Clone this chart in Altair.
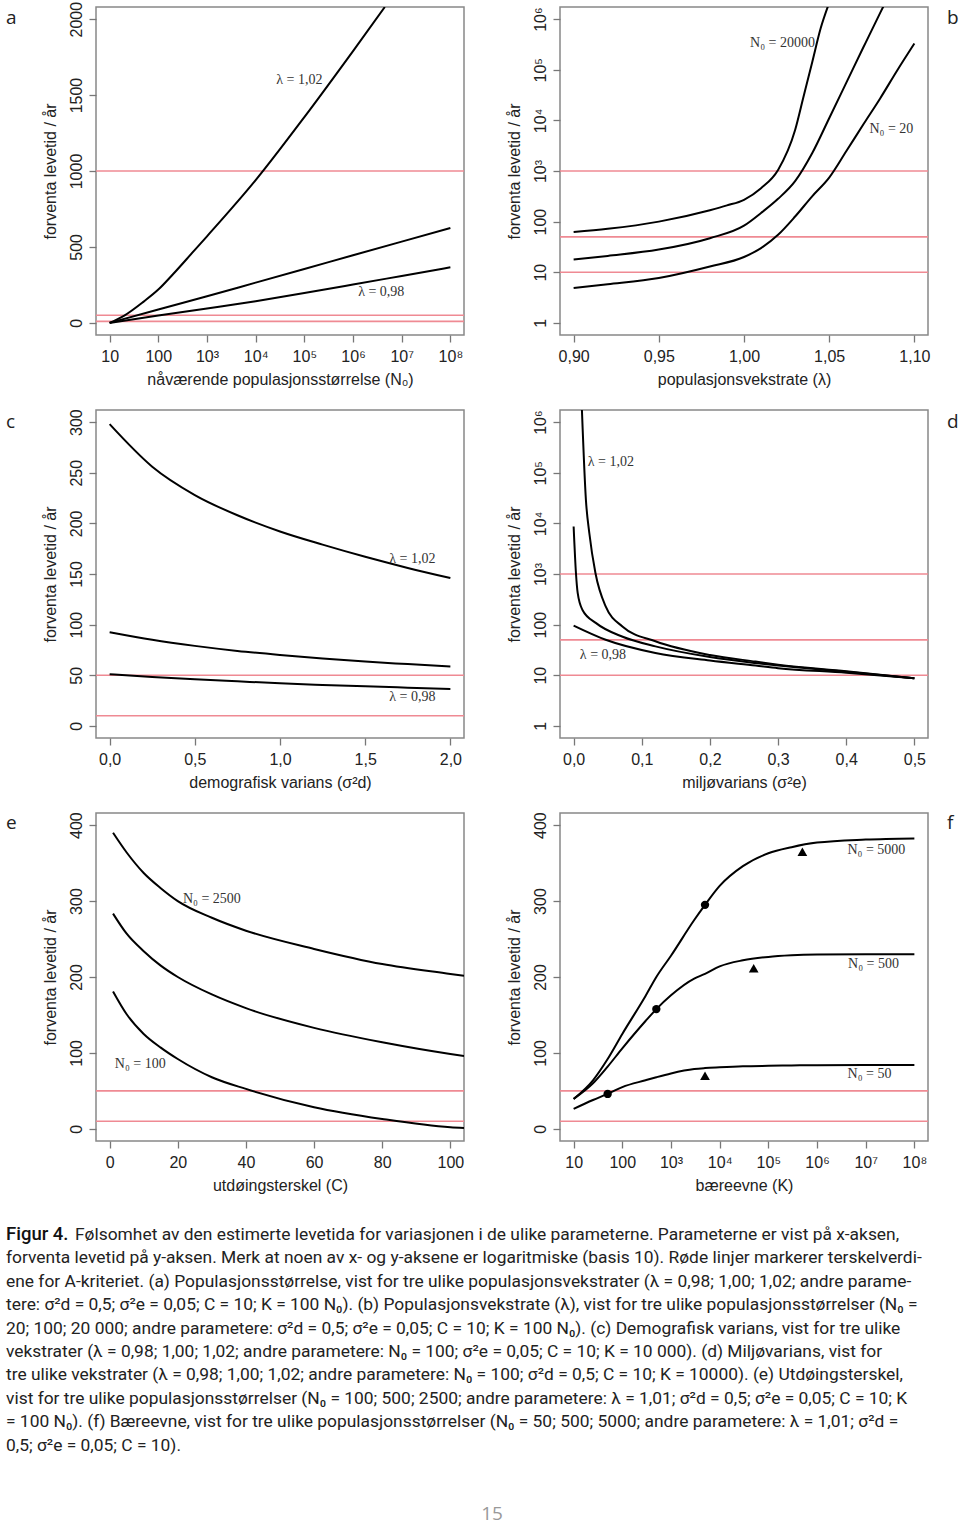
import altair as alt
import pandas as pd

# ---------------- data ----------------
# (a) expected lifetime vs current population size N0
A_N0 = [10, 100, 1000, 1e4, 1e5, 1e6, 1e7, 1e8]
A_LAM098 = [0, 48, 95, 143, 196, 252, 309, 366]
A_LAM100 = [0, 88, 175, 265, 355, 445, 535, 625]
A_N0_102 = [10, 20, 50, 100, 200, 500, 1000, 1e4, 1e5, 1e6, 4.5e6]
A_LAM102 = [0, 48, 140, 219, 320, 462, 570, 940, 1355, 1790, 2080]

# (b) expected lifetime vs growth rate lambda (log y)
B_LAMBDA = [0.90, 0.92, 0.95, 0.98, 1.00, 1.01, 1.02, 1.03, 1.04, 1.05, 1.06, 1.07, 1.08, 1.09, 1.10]
B_N20 = [4.9, 5.8, 7.7, 13, 20, 30, 55, 126, 316, 740, 2450, 8300, 27500, 98000, 330000]
B_N100 = [17.8, 21, 28, 47, 83, 148, 282, 631, 2240, 11000, 55000, 275000, 1.35e6, 6.3e6, 3e7]
B_LAMBDA_20000 = [0.90, 0.92, 0.95, 0.98, 0.99, 1.00, 1.01, 1.02, 1.03, 1.035, 1.04, 1.045, 1.05]
B_N20000 = [62, 72, 100, 168, 209, 270, 457, 1050, 6450, 30000, 140000, 660000, 2.1e6]

# (c) expected lifetime vs demographic variance
C_SD2 = [0.0, 0.25, 0.5, 0.75, 1.0, 1.25, 1.5, 1.75, 2.0]
C_LAM102 = [298, 256, 228, 208, 192, 179, 167, 156, 146]
C_LAM100 = [92.5, 85, 79, 74, 70, 66.5, 63.5, 61, 58.6]
C_LAM098 = [51, 48.3, 46, 44, 42, 40.4, 39, 37.7, 36.5]

# (d) expected lifetime vs environmental variance (log y)
D_SE2_102 = [0.012, 0.018, 0.023, 0.032, 0.047, 0.072, 0.12, 0.2, 0.267, 0.3, 0.4, 0.5]
D_LAM102 = [2.0e6, 29500, 6460, 1047, 229, 91, 46.8, 25.1, 18.6, 16.2, 12.0, 8.7]
D_SE2_100 = [0.0, 0.0034, 0.006, 0.013, 0.033, 0.072, 0.12, 0.2, 0.267, 0.3, 0.4, 0.5]
D_LAM100 = [8710, 1047, 417, 195, 107, 57.5, 37.2, 22.9, 17.4, 15.5, 11.7, 8.7]
D_SE2_098 = [0.0, 0.047, 0.12, 0.2, 0.267, 0.3, 0.4, 0.5]
D_LAM098 = [95.5, 50.1, 27.5, 19.5, 15.5, 13.8, 11.2, 8.7]

# (e) expected lifetime vs extinction threshold C
E_C = [1, 5, 10, 15, 20, 30, 40, 60, 80, 100, 104]
E_N2500 = [390, 364, 337, 317, 300, 278, 261, 237, 217, 204, 201.5]
E_N500 = [283.5, 257, 234, 215, 200, 177, 159, 133, 114, 98.6, 96]
E_N100 = [181, 151, 125, 107, 92, 68, 52.6, 28.5, 13, 2, 1]

# (f) expected lifetime vs carrying capacity K
F_K = [10, 25, 50, 100, 300, 500, 1000, 3000, 5000, 1e4, 3e4, 1e5, 3e5, 1e6, 1e7, 1e8]
F_N5000 = [39.4, 64, 92, 125, 175, 200, 228, 275, 295, 320, 346, 363, 371, 377, 381, 382.5]
F_N500 = [39.4, 60, 82, 106, 142, 157.7, 176, 198, 204, 214, 222, 226.5, 228.5, 229.5, 230, 230]
F_N50 = [26.3, 38, 46, 55, 64, 68, 73, 78.8, 80, 81, 82.3, 83, 83.5, 83.8, 84, 84]
F_DOT_K = [50, 500, 5000]
F_DOT_Y = [46, 157.7, 295]
F_TRI_K = [5000, 50000, 500000]
F_TRI_Y = [70, 211.6, 365]

# red threshold lines
RED_A = [10, 50, 1000]
RED_B = [10, 50, 1000]
RED_C = [10, 50]
RED_D = [10, 50, 1000]
RED_E = [10, 50]
RED_F = [10, 50]

# annotation labels
NOTES_A = (["λ = 1,02", "λ = 0,98"], [7.9e4, 3.8e6], [1600, 200])
NOTES_B = (["N₀ = 20000", "N₀ = 20"], [1.0226, 1.0865], [3.35e5, 6760])
NOTES_C = (["λ = 1,02", "λ = 0,98"], [1.777, 1.777], [165, 28.6])
NOTES_D = (["λ = 1,02", "λ = 0,98"], [0.0546, 0.043], [1.65e5, 25])
NOTES_E = (["N₀ = 2500", "N₀ = 100"], [30, 9], [302.6, 85.8])
NOTES_F = (["N₀ = 5000", "N₀ = 500", "N₀ = 50"], [1.66e7, 1.45e7, 1.2e7], [367, 217, 72.6])

CAPTION_LINES = [
    "Følsomhet av den estimerte levetida for variasjonen i de ulike parameterne. Parameterne er vist på x-aksen,",
    "forventa levetid på y-aksen. Merk at noen av x- og y-aksene er logaritmiske (basis 10). Røde linjer markerer terskelverdi-",
    "ene for A-kriteriet. (a) Populasjonsstørrelse, vist for tre ulike populasjonsvekstrater (λ = 0,98; 1,00; 1,02; andre parame-",
    "tere: σ²d = 0,5; σ²e = 0,05; C = 10; K = 100 N₀). (b) Populasjonsvekstrate (λ), vist for tre ulike populasjonsstørrelser (N₀ =",
    "20; 100; 20 000; andre parametere: σ²d = 0,5; σ²e = 0,05; C = 10; K = 100 N₀). (c) Demografisk varians, vist for tre ulike",
    "vekstrater (λ = 0,98; 1,00; 1,02; andre parametere: N₀ = 100; σ²e = 0,05; C = 10; K = 10 000). (d) Miljøvarians, vist for",
    "tre ulike vekstrater (λ = 0,98; 1,00; 1,02; andre parametere: N₀ = 100; σ²d = 0,5; C = 10; K = 10000). (e) Utdøingsterskel,",
    "vist for tre ulike populasjonsstørrelser (N₀ = 100; 500; 2500; andre parametere: λ = 1,01; σ²d = 0,5; σ²e = 0,05; C = 10; K",
    "= 100 N₀). (f) Bæreevne, vist for tre ulike populasjonsstørrelser (N₀ = 50; 500; 5000; andre parametere: λ = 1,01; σ²d =",
    "0,5; σ²e = 0,05; C = 10).",
]

# ---------------- styling ----------------
W, H = 368, 328
FONT = "Liberation Sans"
SERIF = "Liberation Serif"
CAPFONT = "Roboto"
RED = "#ef8a93"
YTITLE = "forventa levetid / år"
POW = "['1','10','100','10³','10⁴','10⁵','10⁶','10⁷','10⁸'][round(log(datum.value)/LN10)]"


def comma(dec):
    return f"replace(format(datum.value, '.{dec}f'), '.', ',')"


def curves(pairs):
    frames = []
    for name, xs, ys in pairs:
        frames.append(pd.DataFrame({"x": xs, "y": ys, "s": name}))
    return pd.concat(frames, ignore_index=True)


def panel(data, reds, notes, xscale, yscale, xaxis, yaxis, letter, lx, ly, extra=None):
    X = alt.X("x:Q", scale=xscale, axis=xaxis)
    Y = alt.Y("y:Q", scale=yscale, axis=yaxis)
    rules = alt.Chart(pd.DataFrame({"y": reds})).mark_rule(
        color=RED, strokeWidth=1.6).encode(y=Y)
    lines = alt.Chart(data).mark_line(
        color="black", strokeWidth=2, interpolate="monotone", clip=True
    ).encode(x=X, y=Y, detail="s:N")
    txt = alt.Chart(pd.DataFrame({"t": notes[0], "x": notes[1], "y": notes[2]})).mark_text(
        font=SERIF, fontSize=14, color="#333", align="center", baseline="middle"
    ).encode(x=X, y=Y, text="t:N")
    lab = alt.Chart(pd.DataFrame({"t": [letter]})).mark_text(
        font="Open Sans", fontSize=19, color="#222", align="left", baseline="middle"
    ).encode(x=alt.value(lx), y=alt.value(ly), text="t:N")
    layers = [rules, lines, txt, lab]
    if extra:
        layers += [e(X, Y) for e in extra]
    return alt.layer(*layers).properties(width=W, height=H)


def log_axis(title, values):
    return alt.Axis(title=title, values=values, labelExpr=POW)


def lin_axis(title, values, expr=None):
    if expr:
        return alt.Axis(title=title, values=values, labelExpr=expr)
    return alt.Axis(title=title, values=values, format="d")


LOGX = alt.Scale(type="log", domain=[5.248, 1.905e8], nice=False)
LOGY = alt.Scale(type="log", domain=[0.575, 1.74e6], nice=False)
DEC = [10, 100, 1000, 1e4, 1e5, 1e6, 1e7, 1e8]
YDEC = [1, 10, 100, 1000, 1e4, 1e5, 1e6]

pa = panel(
    curves([("l098", A_N0, A_LAM098), ("l100", A_N0, A_LAM100), ("l102", A_N0_102, A_LAM102)]),
    RED_A, NOTES_A, LOGX,
    alt.Scale(domain=[-80, 2080], nice=False, zero=False),
    log_axis("nåværende populasjonsstørrelse (N₀)", DEC),
    lin_axis(YTITLE, [0, 500, 1000, 1500, 2000]),
    "a", -90, 11)

pb = panel(
    curves([("n20", B_LAMBDA, B_N20), ("n100", B_LAMBDA, B_N100), ("n20000", B_LAMBDA_20000, B_N20000)]),
    RED_B, NOTES_B,
    alt.Scale(domain=[0.892, 1.108], nice=False, zero=False), LOGY,
    lin_axis("populasjonsvekstrate (λ)", [0.90, 0.95, 1.00, 1.05, 1.10], comma(2)),
    log_axis(YTITLE, YDEC),
    "b", 387, 11)

pc = panel(
    curves([("l102", C_SD2, C_LAM102), ("l100", C_SD2, C_LAM100), ("l098", C_SD2, C_LAM098)]),
    RED_C, NOTES_C,
    alt.Scale(domain=[-0.08, 2.08], nice=False, zero=False),
    alt.Scale(domain=[-12, 312], nice=False, zero=False),
    lin_axis("demografisk varians (σ²d)", [0, 0.5, 1.0, 1.5, 2.0], comma(1)),
    lin_axis(YTITLE, [0, 50, 100, 150, 200, 250, 300]),
    "c", -90, 12)

pd_ = panel(
    curves([("l102", D_SE2_102, D_LAM102), ("l100", D_SE2_100, D_LAM100), ("l098", D_SE2_098, D_LAM098)]),
    RED_D, NOTES_D,
    alt.Scale(domain=[-0.02, 0.52], nice=False, zero=False), LOGY,
    lin_axis("miljøvarians (σ²e)", [0, 0.1, 0.2, 0.3, 0.4, 0.5], comma(1)),
    log_axis(YTITLE, YDEC),
    "d", 387, 12)


def caption_layers():
    out = []
    bold = alt.Chart(pd.DataFrame({"t": ["Figur 4."]})).mark_text(
        font=CAPFONT, fontSize=18.5, fontWeight=500, color="#111",
        align="left", baseline="alphabetic"
    ).encode(x=alt.value(-90), y=alt.value(427), text="t:N")
    out.append(bold)
    for i, line in enumerate(CAPTION_LINES):
        out.append(alt.Chart(pd.DataFrame({"t": [line]})).mark_text(
            font=CAPFONT, fontSize=17.4, color="#222",
            align="left", baseline="alphabetic"
        ).encode(x=alt.value(-21 if i == 0 else -90), y=alt.value(427 + i * 23.4), text="t:N"))
    out.append(alt.Chart(pd.DataFrame({"t": ["15"]})).mark_text(
        font="Open Sans", fontSize=19, color="#999", align="center", baseline="middle"
    ).encode(x=alt.value(396), y=alt.value(701), text="t:N"))
    return out


pe = panel(
    curves([("n2500", E_C, E_N2500), ("n500", E_C, E_N500), ("n100", E_C, E_N100)]),
    RED_E, NOTES_E,
    alt.Scale(domain=[-4, 104], nice=False, zero=False),
    alt.Scale(domain=[-16, 416], nice=False, zero=False),
    lin_axis("utdøingsterskel (C)", [0, 20, 40, 60, 80, 100]),
    lin_axis(YTITLE, [0, 100, 200, 300, 400]),
    "e", -90, 10)
pe = alt.layer(*(list(pe.layer) + caption_layers())).properties(width=W, height=H)


def dots(X, Y):
    return alt.Chart(pd.DataFrame({"x": F_DOT_K, "y": F_DOT_Y})).mark_point(
        shape="circle", filled=True, color="black", size=70, opacity=1).encode(x=X, y=Y)


def tris(X, Y):
    return alt.Chart(pd.DataFrame({"x": F_TRI_K, "y": F_TRI_Y})).mark_point(
        shape="triangle-up", filled=True, color="black", size=95, opacity=1).encode(x=X, y=Y)


pf = panel(
    curves([("n5000", F_K, F_N5000), ("n500", F_K, F_N500), ("n50", F_K, F_N50)]),
    RED_F, NOTES_F, LOGX,
    alt.Scale(domain=[-16, 416], nice=False, zero=False),
    log_axis("bæreevne (K)", DEC),
    lin_axis(YTITLE, [0, 100, 200, 300, 400]),
    "f", 387, 10, extra=[dots, tris])

chart = alt.concat(
    pa, pb, pc, pd_, pe, pf,
    columns=2, spacing={"row": 75, "column": 96}, bounds="flush"
).properties(
    padding={"left": 5, "top": 0, "right": 0, "bottom": 0},
    background="white",
).configure_view(
    stroke="#888", strokeWidth=1.5
).configure_axis(
    labelFont=FONT, labelFontSize=16, labelColor="#222",
    titleFont=FONT, titleFontSize=16, titleFontWeight="normal", titleColor="#222",
    tickColor="#777", tickSize=7, tickWidth=1.3, domain=False, grid=False,
    labelOverlap=False, labelFlush=False, labelBound=False,
).configure_axisX(
    labelPadding=6, titlePadding=7
).configure_axisY(
    labelAngle=270, labelAlign="center", labelBaseline="bottom", labelPadding=5, titlePadding=10
)

chart.save("out.html", embed_options={"renderer": "svg", "actions": False})
